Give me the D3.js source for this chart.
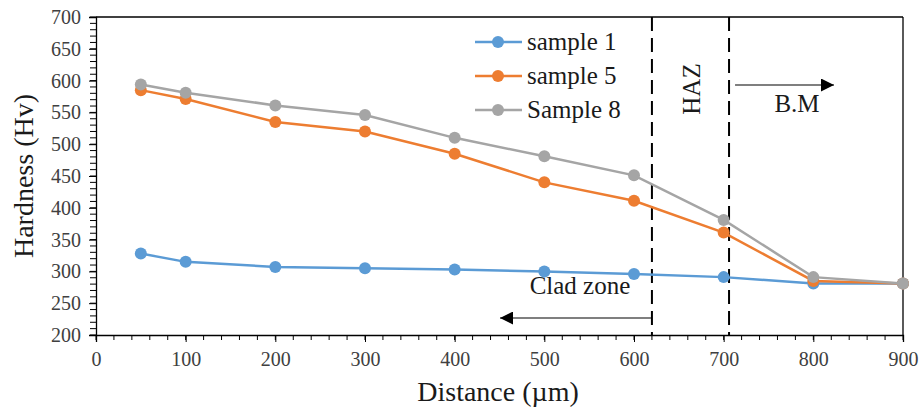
<!DOCTYPE html>
<html><head><meta charset="utf-8">
<script src="https://cdn.jsdelivr.net/npm/d3@7"></script>
<style>body{margin:0;background:#fff}svg{display:block}text{font-family:"Liberation Serif","Times New Roman",serif}</style>
</head><body><svg id="c" width="922" height="410"></svg>
<script>
const distances = [50,100,200,300,400,500,600,700,800,900];
const sample1 = [328,315,307,305,303,300,296,291,281,281];
const sample5 = [585,571,535,520,485,440,411,361,285,281];
const sample8 = [594,581,561,546,510,481,451,381,291,281];
const seriesNames = ["sample 1","sample 5","Sample 8"];
const seriesColors = ["#5B9BD5","#ED7D31","#A5A5A5"];
const xTicks = [0,100,200,300,400,500,600,700,800,900];
const yTicks = [200,250,300,350,400,450,500,550,600,650,700];
const zoneLines = [620,706];

const svg = d3.select("#c");
const L=96,R=903,T=17,B=335;
const x = d3.scaleLinear().domain([0,900]).range([L,R]);
const y = d3.scaleLinear().domain([200,700]).range([B,T]);

svg.append("line").attr("x1",L).attr("x2",R).attr("y1",T).attr("y2",T).attr("stroke","#000").attr("stroke-width",1.3);
svg.append("line").attr("x1",R).attr("x2",R).attr("y1",T).attr("y2",B).attr("stroke","#000").attr("stroke-width",1.3);

const yMinor = d3.range(200,701,10);
svg.append("g").selectAll("line").data(yMinor).join("line")
  .attr("x1",L-6).attr("x2",L).attr("y1",d=>y(d)).attr("y2",d=>y(d)).attr("stroke","#000").attr("stroke-width",1);
const xMinor = d3.range(0,901,20);
svg.append("g").selectAll("line").data(xMinor).join("line")
  .attr("x1",d=>x(d)).attr("x2",d=>x(d)).attr("y1",B).attr("y2",B+5).attr("stroke","#000").attr("stroke-width",1);

const yAxis = svg.append("g").attr("transform",`translate(${L},0)`)
  .call(d3.axisLeft(y).tickValues(yTicks).tickSize(7).tickPadding(8));
const xAxis = svg.append("g").attr("transform",`translate(0,${B})`)
  .call(d3.axisBottom(x).tickValues(xTicks).tickSize(7).tickPadding(10));
[yAxis,xAxis].forEach(a=>{
  a.select(".domain").attr("stroke","#000").attr("stroke-width",1.3);
  a.selectAll(".tick line").attr("stroke","#000").attr("stroke-width",1);
  a.selectAll("text").attr("font-family","Liberation Serif").attr("font-size",20).attr("fill","#404040");
});

svg.append("text").attr("x",498).attr("y",401).attr("text-anchor","middle").attr("font-size",28).attr("fill","#1a1a1a").text("Distance (µm)");
svg.append("text").attr("transform","translate(33,176) rotate(-90)").attr("text-anchor","middle").attr("font-size",28).attr("fill","#1a1a1a").text("Hardness (Hv)");

svg.append("g").selectAll("line").data(zoneLines).join("line")
  .attr("x1",d=>x(d)).attr("x2",d=>x(d)).attr("y1",T).attr("y2",B)
  .attr("stroke","#000").attr("stroke-width",2).attr("stroke-dasharray","14,7");

const defs = svg.append("defs");
defs.append("marker").attr("id","ah").attr("viewBox","0 0 10 10").attr("refX",10).attr("refY",5)
  .attr("markerWidth",13).attr("markerHeight",13).attr("markerUnits","userSpaceOnUse").attr("orient","auto")
  .append("path").attr("d","M0,0 L10,5 L0,10 Z").attr("fill","#000");
svg.append("line").attr("x1",x(zoneLines[0])).attr("x2",500).attr("y1",318).attr("y2",318)
  .attr("stroke","#000").attr("stroke-width",1.2).attr("marker-end","url(#ah)");
svg.append("line").attr("x1",x(zoneLines[1])+6).attr("x2",834).attr("y1",85).attr("y2",85)
  .attr("stroke","#000").attr("stroke-width",1.2).attr("marker-end","url(#ah)");

svg.append("text").attr("x",580).attr("y",294).attr("text-anchor","middle").attr("font-size",25).attr("fill","#1a1a1a").text("Clad zone");
svg.append("text").attr("x",797).attr("y",112).attr("text-anchor","middle").attr("font-size",25).attr("fill","#1a1a1a").text("B.M");
svg.append("text").attr("transform","translate(700,89) rotate(-90)").attr("text-anchor","middle").attr("font-size",25).attr("fill","#1a1a1a").text("HAZ");

const data = [sample1,sample5,sample8];
const line = d3.line().x((d,i)=>x(distances[i])).y(d=>y(d));
data.forEach((s,k)=>{
  const g = svg.append("g");
  g.append("path").attr("d",line(s)).attr("fill","none").attr("stroke",seriesColors[k]).attr("stroke-width",2.5);
  g.selectAll("circle").data(s).join("circle")
    .attr("cx",(d,i)=>x(distances[i])).attr("cy",d=>y(d)).attr("r",6).attr("fill",seriesColors[k]);
});

const lg = svg.append("g");
seriesNames.forEach((n,k)=>{
  const yy = 42 + k*34;
  lg.append("line").attr("x1",475).attr("x2",522).attr("y1",yy).attr("y2",yy).attr("stroke",seriesColors[k]).attr("stroke-width",2.5);
  lg.append("circle").attr("cx",498).attr("cy",yy).attr("r",6).attr("fill",seriesColors[k]);
  lg.append("text").attr("x",527).attr("y",yy+8).attr("font-size",25).attr("fill","#1a1a1a").text(n);
});
</script></body></html>
